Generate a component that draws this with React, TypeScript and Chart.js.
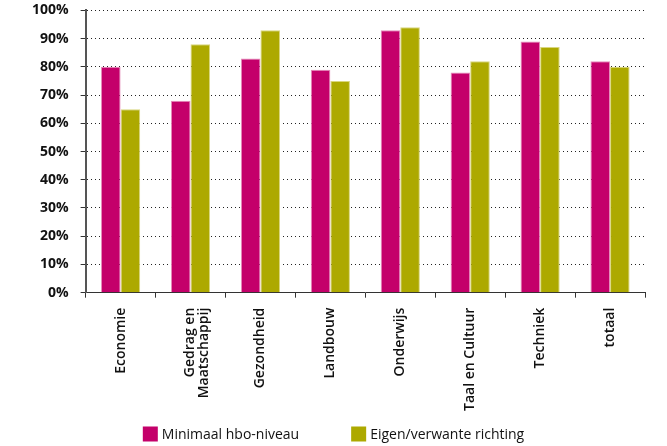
import React, { useEffect, useRef } from "react";
import { Chart, registerables } from "chart.js";

Chart.register(...registerables);

const categories: (string | string[])[] = [
  "Economie",
  ["Gedrag en", "Maatschappij"],
  "Gezondheid",
  "Landbouw",
  "Onderwijs",
  "Taal en Cultuur",
  "Techniek",
  "totaal",
];
const seriesNames = ["Minimaal hbo-niveau", "Eigen/verwante richting"];
const minimaalHbo = [80, 68, 83, 79, 93, 78, 89, 82];
const eigenRichting = [65, 88, 93, 75, 94, 82, 87, 80];
const yTicks = [0, 10, 20, 30, 40, 50, 60, 70, 80, 90, 100];

const FONT = "'Open Sans', 'DejaVu Sans', sans-serif";
const SHIFT = 10;

const bottomLegend = {
  id: "bottomLegend",
  afterDraw(chart: any) {
    const ctx = chart.ctx as CanvasRenderingContext2D;
    const ds = chart.data.datasets;
    ctx.save();
    ctx.font = `500 14px ${FONT}`;
    ctx.textBaseline = "middle";
    ctx.textAlign = "left";
    const box = 15;
    const gapText = 4;
    const gapItems = 52;
    const widths = ds.map((d: any) => box + gapText + ctx.measureText(d.label).width);
    const total = widths.reduce((a: number, b: number) => a + b, 0) + gapItems * (ds.length - 1);
    let x = chart.width / 2 - total / 2;
    const yc = 434 + SHIFT;
    ds.forEach((d: any, i: number) => {
      ctx.fillStyle = d.backgroundColor;
      ctx.fillRect(x, yc - box / 2, box, box);
      ctx.fillStyle = "#111";
      ctx.fillText(d.label, x + box + gapText, yc + 1);
      x += widths[i] + gapItems;
    });
    ctx.restore();
  },
};

export default function App() {
  const ref = useRef<HTMLCanvasElement | null>(null);
  useEffect(() => {
    if (!ref.current) return;
    const chart = new Chart(ref.current, {
      type: "bar",
      data: {
        labels: categories,
        datasets: [
          {
            label: seriesNames[0],
            data: minimaalHbo,
            backgroundColor: "#C4006A",
            borderColor: "#E58DBA",
            borderWidth: 1,
            categoryPercentage: 0.56,
            barPercentage: 1,
          },
          {
            label: seriesNames[1],
            data: eigenRichting,
            backgroundColor: "#ADA900",
            borderColor: "#D9D67E",
            borderWidth: 1,
            categoryPercentage: 0.56,
            barPercentage: 1,
          },
        ],
      },
      plugins: [bottomLegend],
      options: {
        animation: false,
        responsive: false,
        maintainAspectRatio: false,
        layout: { padding: { top: 0, right: 22, left: 20, bottom: 25 } },
        plugins: {
          tooltip: { enabled: false },
          legend: { display: false },
        },
        scales: {
          x: {
            grid: {
              drawOnChartArea: false,
              drawTicks: true,
              tickLength: 5,
              tickColor: "#333",
              offset: true,
            },
            border: { display: true, color: "#333", width: 1 },
            ticks: {
              maxRotation: 90,
              minRotation: 90,
              padding: 10,
              color: "#111",
              font: { family: FONT, size: 14, weight: "600", lineHeight: 1.0 },
            },
          },
          y: {
            min: 0,
            max: 100,
            afterBuildTicks: (axis: any) => {
              axis.ticks = yTicks.map((v) => ({ value: v }));
            },
            grid: {
              color: "#222",
              lineWidth: 1,
              tickLength: 5,
              tickColor: "#333",
              tickBorderDash: [],
            } as any,
            border: { display: true, color: "#555", width: 2, dash: [1, 3] },
            ticks: {
              padding: 12,
              color: "#111",
              font: { family: FONT, size: 14, weight: "700" },
              callback: (v: any) => v + "%",
            },
          },
        },
      },
    });
    return () => chart.destroy();
  }, []);
  return (
    <div style={{ position: "fixed", left: 0, top: 0, width: 667, height: 446, background: "#fff", overflow: "hidden" }}>
      <canvas
        ref={ref}
        width={667}
        height={446 + SHIFT}
        style={{ position: "absolute", left: 0, top: -SHIFT, display: "block" }}
      />
    </div>
  );
}
